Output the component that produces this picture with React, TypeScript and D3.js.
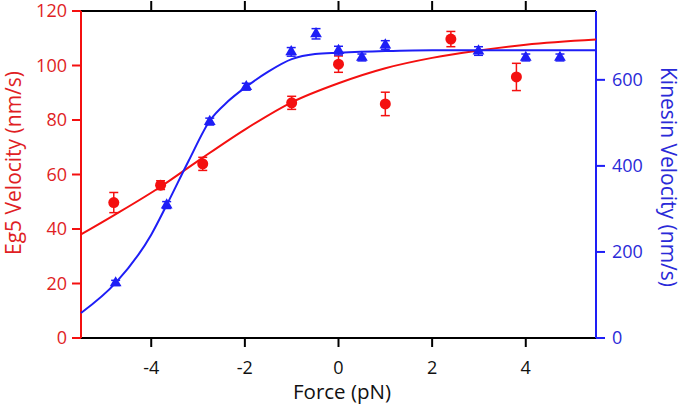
import * as d3 from 'd3';

// Eg5 (left axis) measurements
const eg5Force = [-4.8, -3.8, -2.9, -1.0, 0.0, 1.0, 2.4, 3.8];
const eg5Vel = [49.7, 56.1, 63.9, 86.3, 100.5, 85.9, 109.7, 95.8];
const eg5Err = [3.7, 1.6, 2.4, 2.4, 3.0, 4.3, 2.8, 5.0];

// Kinesin (right axis) measurements
const kinForce = [-4.76, -3.67, -2.75, -1.97, -1.01, -0.48, 0.0, 0.5, 1.0, 2.99, 4.0, 4.73];
const kinVel = [128, 309, 503, 584, 665, 707, 668, 652, 681, 667, 652, 652];
const kinErr = [6, 8, 8, 8, 10, 12, 10, 8, 10, 10, 8, 8];

// fitted curves
const eg5FitForce = [-5.5, -4.8, -3.8, -3.0, -2.0, -1.0, 0, 1, 2, 3, 4, 5.5];
const eg5FitVel = [38, 45, 55.5, 65, 76.5, 86.5, 93.5, 99, 102.8, 105.5, 107.6, 109.5];
const kinFitForce = [-5.5, -4.76, -4.0, -3.67, -3.2, -2.75, -2.36, -1.97, -1.5, -1.0, -0.5, 0, 1, 2, 3, 5.5];
const kinFitVel = [58, 128, 240, 309, 412, 505, 550, 584, 619, 648, 660, 663, 667, 669, 669, 669];

const xTicks = [-4, -2, 0, 2, 4];
const leftTicks = [0, 20, 40, 60, 80, 100, 120];
const rightTicks = [0, 200, 400, 600];

const RED = '#f41010';
const BLUE = '#1e1ef6';
const RED_TXT = '#e01e24';
const BLUE_TXT = '#2a2ad8';
const FONT = '"Open Sans", sans-serif';

export default function App() {
  const left = 81, right = 596, top = 11, bottom = 338;
  const x = d3.scaleLinear().domain([-5.5, 5.5]).range([left, right]);
  const yL = d3.scaleLinear().domain([0, 120]).range([bottom, top]);
  const yR = d3.scaleLinear().domain([0, 760]).range([bottom, top]);

  const eg5Line = d3
    .line<number>()
    .x((_, i) => x(eg5FitForce[i]))
    .y((d) => yL(d))
    .curve(d3.curveMonotoneX)(eg5FitVel);
  const kinLine = d3
    .line<number>()
    .x((_, i) => x(kinFitForce[i]))
    .y((d) => yR(d))
    .curve(d3.curveMonotoneX)(kinFitVel);
  const tri = d3.symbol().type(d3.symbolTriangle).size(60)();

  return (
    <svg width={685} height={405} style={{ position: 'absolute', left: 0, top: 0 }} fontFamily={FONT}>
      <rect width={685} height={405} fill="#fff" />
      {/* frame */}
      <line x1={left} x2={right} y1={top} y2={top} stroke="#000" strokeWidth={2} />
      <line x1={left} x2={right} y1={bottom} y2={bottom} stroke="#000" strokeWidth={2} />
      {xTicks.map((t) => (
        <g key={t}>
          <line x1={x(t)} x2={x(t)} y1={bottom} y2={bottom + 9} stroke="#000" strokeWidth={2} />
          <line x1={x(t)} x2={x(t)} y1={top} y2={top - 10} stroke="#000" strokeWidth={2} />
          <text x={x(t)} y={374} textAnchor="middle" fontSize={18} fill="#111">
            {t}
          </text>
        </g>
      ))}
      <text x={342} y={399} textAnchor="middle" fontSize={20.5} fill="#111">
        Force (pN)
      </text>

      {/* left axis */}
      <line x1={left} x2={left} y1={top} y2={bottom} stroke={RED} strokeWidth={2} />
      {leftTicks.map((t) => (
        <g key={t}>
          <line x1={left - 9} x2={left} y1={yL(t)} y2={yL(t)} stroke={RED} strokeWidth={2} />
          <text x={67} y={yL(t)} dy="0.35em" textAnchor="end" fontSize={18} fill={RED_TXT}>
            {t}
          </text>
        </g>
      ))}
      <text transform="translate(21,163) rotate(-90)" textAnchor="middle" fontSize={21} fill={RED_TXT}>
        Eg5 Velocity (nm/s)
      </text>

      {/* right axis */}
      <line x1={right} x2={right} y1={top} y2={bottom} stroke={BLUE} strokeWidth={2} />
      {rightTicks.map((t) => (
        <g key={t}>
          <line x1={right} x2={right + 9} y1={yR(t)} y2={yR(t)} stroke={BLUE} strokeWidth={2} />
          <text x={612} y={yR(t)} dy="0.35em" textAnchor="start" fontSize={18} fill={BLUE_TXT}>
            {t}
          </text>
        </g>
      ))}
      <text transform="translate(661,177) rotate(90)" textAnchor="middle" fontSize={21} fill={BLUE_TXT}>
        Kinesin Velocity (nm/s)
      </text>

      {/* fits */}
      <path d={eg5Line ?? ''} fill="none" stroke={RED} strokeWidth={2} />
      <path d={kinLine ?? ''} fill="none" stroke={BLUE} strokeWidth={2} />

      {/* Eg5 points */}
      {eg5Force.map((f, i) => {
        const cx = x(f);
        const y1 = yL(eg5Vel[i] + eg5Err[i]);
        const y2 = yL(eg5Vel[i] - eg5Err[i]);
        return (
          <g key={i} stroke={RED} strokeWidth={1.5}>
            <line x1={cx} x2={cx} y1={y1} y2={y2} />
            <line x1={cx - 4.5} x2={cx + 4.5} y1={y1} y2={y1} />
            <line x1={cx - 4.5} x2={cx + 4.5} y1={y2} y2={y2} />
            <circle cx={cx} cy={yL(eg5Vel[i])} r={5.5} fill={RED} stroke="none" />
          </g>
        );
      })}

      {/* Kinesin points */}
      {kinForce.map((f, i) => {
        const cx = x(f);
        const y1 = yR(kinVel[i] + kinErr[i]);
        const y2 = yR(kinVel[i] - kinErr[i]);
        return (
          <g key={i} stroke={BLUE} strokeWidth={1.5}>
            <line x1={cx} x2={cx} y1={y1} y2={y2} />
            <line x1={cx - 4.5} x2={cx + 4.5} y1={y1} y2={y1} />
            <line x1={cx - 4.5} x2={cx + 4.5} y1={y2} y2={y2} />
            <path d={tri ?? ''} transform={`translate(${cx},${yR(kinVel[i])})`} fill={BLUE} stroke="none" />
          </g>
        );
      })}
    </svg>
  );
}
